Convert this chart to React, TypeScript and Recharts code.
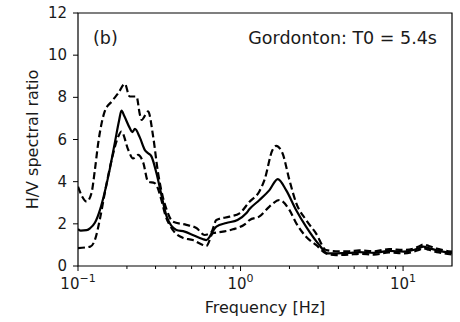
import React from 'react';
import { LineChart, Line, XAxis, YAxis, ReferenceArea, Label } from 'recharts';

// mean H/V curve
const meanFreq = [0.1, 0.104, 0.113, 0.119, 0.127, 0.137, 0.146, 0.156, 0.169, 0.179, 0.185, 0.193, 0.208, 0.216, 0.224, 0.24, 0.258, 0.27, 0.283, 0.304, 0.332, 0.351, 0.403, 0.453, 0.508, 0.584, 0.616, 0.645, 0.675, 0.71, 0.817, 0.958, 1.084, 1.136, 1.308, 1.506, 1.694, 1.907, 2.197, 2.53, 3.052, 3.418, 3.865, 4.67, 5.37, 6.64, 8.2, 10.1, 12.5, 13.3, 14.4, 16.6, 20];
const meanRatio = [1.75, 1.68, 1.7, 1.8, 2.05, 2.7, 3.5, 4.5, 5.9, 6.9, 7.37, 7.1, 6.55, 6.35, 6.5, 6.1, 5.5, 5.35, 5.2, 4.4, 3.1, 2.35, 1.71, 1.63, 1.47, 1.28, 1.23, 1.38, 1.65, 1.87, 2.04, 2.18, 2.5, 2.7, 3.13, 3.6, 4.12, 3.6, 2.66, 1.87, 1.0, 0.6, 0.6, 0.62, 0.66, 0.62, 0.72, 0.68, 0.84, 0.92, 0.85, 0.72, 0.62];

// mean + std
const upperFreq = [0.1, 0.106, 0.113, 0.121, 0.127, 0.133, 0.14, 0.146, 0.161, 0.177, 0.194, 0.208, 0.229, 0.24, 0.246, 0.27, 0.29, 0.311, 0.332, 0.35, 0.383, 0.464, 0.535, 0.601, 0.66, 0.71, 0.856, 0.986, 1.136, 1.308, 1.404, 1.572, 1.656, 1.81, 1.998, 2.197, 2.53, 2.913, 3.357, 3.865, 4.67, 5.37, 6.64, 8.2, 10.1, 12.5, 13.3, 14.4, 16.6, 20];
const upperRatio = [3.76, 3.3, 3.05, 3.45, 4.55, 5.8, 6.8, 7.33, 7.8, 8.2, 8.64, 8.04, 8.04, 7.2, 6.93, 7.33, 6.14, 4.4, 3.3, 2.7, 2.1, 1.95, 1.8, 1.47, 1.6, 2.18, 2.34, 2.5, 3.05, 3.55, 4.08, 5.5, 5.7, 5.36, 4.08, 3.0, 2.18, 1.55, 0.76, 0.7, 0.7, 0.74, 0.7, 0.8, 0.76, 0.92, 1.02, 0.95, 0.8, 0.68];

// mean - std
const lowerFreq = [0.1, 0.119, 0.127, 0.137, 0.146, 0.161, 0.177, 0.185, 0.204, 0.218, 0.234, 0.252, 0.27, 0.297, 0.326, 0.342, 0.384, 0.443, 0.509, 0.586, 0.616, 0.676, 0.779, 0.897, 1.084, 1.136, 1.308, 1.506, 1.735, 1.998, 2.197, 2.53, 2.913, 3.357, 3.865, 4.67, 5.37, 6.64, 8.2, 10.1, 12.5, 13.3, 14.4, 16.6, 20];
const lowerRatio = [0.85, 0.92, 1.23, 2.3, 3.45, 5.03, 6.14, 6.38, 5.5, 5.1, 5.27, 4.9, 4.0, 3.93, 3.13, 2.5, 1.7, 1.33, 1.23, 1.0, 0.95, 1.55, 1.63, 1.74, 2.03, 2.18, 2.35, 2.82, 3.13, 2.66, 2.04, 1.39, 1.0, 0.6, 0.52, 0.54, 0.58, 0.54, 0.64, 0.6, 0.76, 0.84, 0.77, 0.64, 0.55];

const majorTicks = [0.1, 1, 10];
const majorExp = ['\u22121', '0', '1'];
const minorTicks = [0.2, 0.3, 0.4, 0.5, 0.6, 0.7, 0.8, 0.9, 2, 3, 4, 5, 6, 7, 8, 9];
const yTicks = [0, 2, 4, 6, 8, 10, 12];

const font = '"DejaVu Sans", sans-serif';
const ink = '#1a1a1a';

const toPoints = (f: number[], v: number[]) => f.map((x, i) => ({ f: x, v: v[i] }));

function XTick({ x, y, payload }: any) {
  const idx = majorTicks.indexOf(payload.value);
  const major = idx >= 0;
  return (
    <g>
      <line x1={x} x2={x} y1={y} y2={y + (major ? 5 : 3)} stroke="#000" strokeWidth={1} />
      {major && (
        <text x={x} y={y + 23} textAnchor="middle" fontSize={15} fill={ink} fontFamily={font}>
          10
          <tspan dy={-7} fontSize={11}>{majorExp[idx]}</tspan>
        </text>
      )}
    </g>
  );
}

function YTick({ x, y, payload }: any) {
  return (
    <g>
      <line x1={x - 5} x2={x} y1={y} y2={y} stroke="#000" strokeWidth={1} />
      <text x={x - 11} y={y} textAnchor="end" dominantBaseline="central" fontSize={15} fill={ink} fontFamily={font}>
        {payload.value}
      </text>
    </g>
  );
}

function XLabel({ viewBox }: any) {
  return (
    <text x={viewBox.x + viewBox.width / 2} y={viewBox.y + 47} textAnchor="middle" fontSize={16} fill={ink} fontFamily={font}>
      Frequency [Hz]
    </text>
  );
}

function YLabel({ viewBox }: any) {
  const cy = viewBox.y + viewBox.height / 2;
  return (
    <text x={38} y={cy} transform={`rotate(-90 38 ${cy})`} textAnchor="middle" fontSize={16} fill={ink} fontFamily={font}>
      H/V spectral ratio
    </text>
  );
}

function Annotations({ viewBox }: any) {
  return (
    <g fontFamily={font} fontSize={17.5} fill={ink}>
      <text x={viewBox.x + 15} y={viewBox.y + 31}>(b)</text>
      <text x={viewBox.x + viewBox.width - 15} y={viewBox.y + 31} textAnchor="end">
        Gordonton: T0 = 5.4s
      </text>
    </g>
  );
}

export default function App() {
  return (
    <div style={{ position: 'absolute', left: 0, top: 0, background: '#fff', fontFamily: font }}>
      <LineChart width={460} height={322} margin={{ top: 13, right: 8, bottom: 0, left: 0 }}>
        <XAxis
          dataKey="f"
          type="number"
          scale="log"
          domain={[0.1, 20]}
          ticks={[...majorTicks, ...minorTicks]}
          allowDataOverflow
          axisLine={false}
          tickLine={false}
          tickSize={0}
          tickMargin={0}
          tick={<XTick />}
          height={56}
          interval={0}
        >
          <Label content={<XLabel />} />
        </XAxis>
        <YAxis
          type="number"
          domain={[0, 12]}
          ticks={yTicks}
          axisLine={false}
          tickLine={false}
          tickSize={0}
          tickMargin={0}
          tick={<YTick />}
          width={78}
          interval={0}
        >
          <Label content={<YLabel />} />
        </YAxis>
        <Line data={toPoints(upperFreq, upperRatio)} dataKey="v" type="monotone" stroke="#000" strokeWidth={2.2} strokeDasharray="7 3.5" dot={false} isAnimationActive={false} />
        <Line data={toPoints(lowerFreq, lowerRatio)} dataKey="v" type="monotone" stroke="#000" strokeWidth={2.2} strokeDasharray="7 3.5" dot={false} isAnimationActive={false} />
        <Line data={toPoints(meanFreq, meanRatio)} dataKey="v" type="monotone" stroke="#000" strokeWidth={2.2} dot={false} isAnimationActive={false} />
        <ReferenceArea
          x1={0.1}
          x2={20}
          y1={0}
          y2={12}
          fill="none"
          stroke="#000"
          strokeWidth={1.2}
          ifOverflow="visible"
          label={<Annotations />}
        />
      </LineChart>
    </div>
  );
}
